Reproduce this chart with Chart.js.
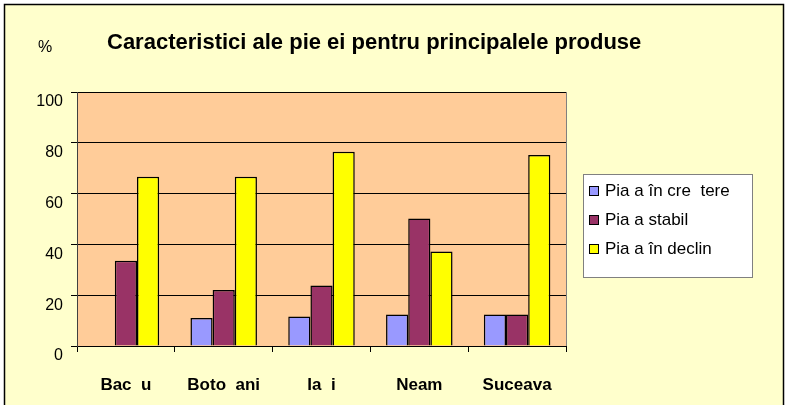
<!DOCTYPE html>
<html>
<head>
<meta charset="utf-8">
<script src="https://cdn.jsdelivr.net/npm/chart.js@4.4.1/dist/chart.umd.min.js"></script>
<style>
  html, body { margin: 0; padding: 0; background: #fff; }
  #wrap { width: 788px; height: 405px; position: relative; }
</style>
</head>
<body>
<div id="wrap"><canvas id="barChart" width="788" height="405"></canvas></div>
<script>
// Chart data
const categories = ['Bac  u', 'Boto  ani', 'Ia  i', 'Neam', 'Suceava'];
const seriesLabels = ['Pia a în cre  tere', 'Pia a stabil', 'Pia a în declin'];
const growing = [0, 11, 11.6, 12.4, 12.4];
const stable = [33.6, 22, 23.8, 50.2, 12.4];
const declining = [66.6, 66.6, 76.5, 37.2, 75.2];
const yTicks = [0, 20, 40, 60, 80, 100];
const colors = ['#9999FF', '#993366', '#FFFF00'];

const FONT = 'Arial, "Liberation Sans", sans-serif';

// Backgrounds, frame, title and legend box
const decorPlugin = {
    id: 'decor',
    beforeDraw(chart) {
        const { ctx, chartArea: a } = chart;
        ctx.save();
        ctx.fillStyle = '#fff';
        ctx.fillRect(0, 0, chart.width, chart.height);
        ctx.fillStyle = '#FFFFCC';
        ctx.fillRect(5, 5, 779, 400);
        ctx.strokeStyle = '#000';
        ctx.lineWidth = 1.5;
        ctx.strokeRect(4.5, 4.5, 779, 410);
        ctx.lineWidth = 1;
        ctx.fillStyle = '#FFCC99';
        ctx.fillRect(a.left, a.top, a.right - a.left, a.bottom - a.top);
        ctx.strokeStyle = '#808080';
        ctx.strokeRect(a.left + 0.5, a.top + 0.5, a.right - a.left, a.bottom - a.top);
        // title
        ctx.fillStyle = '#000';
        ctx.font = 'bold 22px ' + FONT;
        ctx.textBaseline = 'middle';
        ctx.textAlign = 'left';
        ctx.fillText('Caracteristici ale pie ei pentru principalele produse', 107, 43);
        ctx.font = '16px ' + FONT;
        ctx.fillText('%', 38, 48);
        ctx.restore();
    },
    afterDraw(chart) {
        const { ctx } = chart;
        ctx.save();
        ctx.fillStyle = '#fff';
        ctx.fillRect(583, 174, 169, 103);
        ctx.strokeStyle = '#808080';
        ctx.lineWidth = 1;
        ctx.strokeRect(583.5, 174.5, 169, 103);
        ctx.font = '17px ' + FONT;
        ctx.textBaseline = 'middle';
        chart.data.datasets.forEach((ds, i) => {
            const y = 191 + i * 29;
            ctx.fillStyle = ds.backgroundColor;
            ctx.fillRect(589.5, y - 4.5, 9, 9);
            ctx.strokeStyle = '#000';
            ctx.strokeRect(589.5, y - 4.5, 9, 9);
            ctx.fillStyle = '#000';
            ctx.fillText(ds.label, 605, y);
        });
        ctx.restore();
    }
};

const barCtx = document.getElementById('barChart').getContext('2d');
new Chart(barCtx, {
    type: 'bar',
    data: {
        labels: categories,
        datasets: [growing, stable, declining].map((d, i) => ({
            label: seriesLabels[i],
            data: d,
            backgroundColor: colors[i],
            borderColor: '#000',
            borderWidth: 1.5,
            borderSkipped: 'bottom',
            barPercentage: 1,
            categoryPercentage: 0.68,
        })),
    },
    options: {
        responsive: false,
        animation: false,
        layout: { padding: { left: 0, top: 92, right: 222, bottom: 0 } },
        plugins: {
            legend: { display: false },
            title: { display: false },
            tooltip: { enabled: false },
        },
        scales: {
            x: {
                afterFit(scale) { scale.height = 59; },
                grid: { drawOnChartArea: false, drawTicks: true, tickLength: 6, color: '#000', offset: true },
                border: { color: '#000' },
                ticks: { color: '#000', padding: 23, font: { family: FONT, size: 17, weight: 'bold' } },
            },
            y: {
                min: 0,
                max: 100,
                afterFit(scale) { scale.width = 77; },
                afterBuildTicks(scale) { scale.ticks = yTicks.map(v => ({ value: v })); },
                grid: { color: '#000', tickLength: 6 },
                border: { color: '#404040' },
                ticks: { color: '#000', padding: 8, labelOffset: 10, font: { family: FONT, size: 16 } },
            },
        },
    },
    plugins: [decorPlugin],
});
</script>
</body>
</html>
